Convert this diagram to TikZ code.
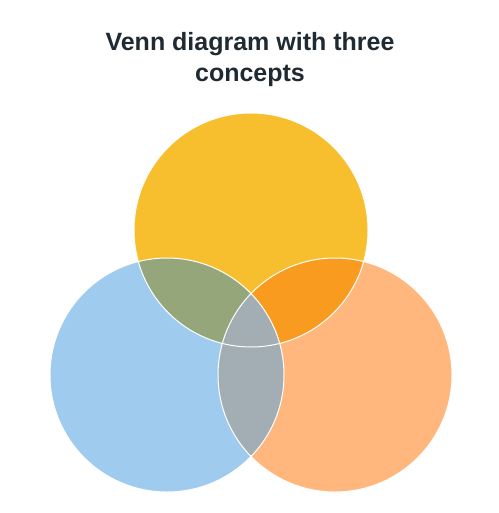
\documentclass[tikz,border=0pt]{standalone}
\usepackage{fontspec}
\setmainfont{Liberation Sans}
\definecolor{cy}{HTML}{F7BE2E}
\definecolor{cb}{HTML}{9FCBEE}
\definecolor{co}{HTML}{FFB77D}
\definecolor{cyb}{HTML}{95A67A}
\definecolor{cyo}{HTML}{F99B1F}
\definecolor{cbo}{HTML}{A3ADB4}
\definecolor{ct}{HTML}{1F2A33}
\begin{document}
\begin{tikzpicture}[x=1pt,y=-1pt,
  ring/.style={draw=white,line width=1pt}]
\useasboundingbox (0,0) rectangle (498,513);
\coordinate (Y) at (251,230);
\coordinate (B) at (167,375);
\coordinate (O) at (335,375);
\def\R{117}
\fill[cy] (Y) circle (\R);
\fill[cb] (B) circle (\R);
\fill[co] (O) circle (\R);
\begin{scope}\clip (Y) circle (\R); \fill[cyb] (B) circle (\R);\end{scope}
\begin{scope}\clip (Y) circle (\R); \fill[cyo] (O) circle (\R);\end{scope}
\begin{scope}\clip (B) circle (\R); \fill[cbo] (O) circle (\R);\end{scope}
\draw[ring] (Y) circle (\R);
\draw[ring] (B) circle (\R);
\draw[ring] (O) circle (\R);
\node[font=\bfseries\fontsize{25}{31}\selectfont,text=ct,align=center] (title) at (250,60) {Venn diagram with three\\concepts};
\end{tikzpicture}
\end{document}
